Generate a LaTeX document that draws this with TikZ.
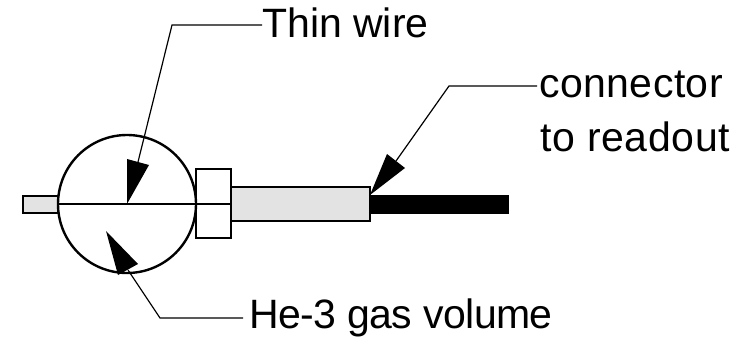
\documentclass[tikz,border=0pt]{standalone}
\usepackage{fontspec}
\setmainfont{Liberation Sans}
\tikzset{
 lbl/.style={inner sep=0pt,anchor=base west,font=\fontsize{41}{41}\selectfont},
 part/.style={draw=black,line width=2.4pt},
 thin lead/.style={draw=black,line width=1.2pt},
 head/.style={fill=black,draw=none}
}
\begin{document}
\begin{tikzpicture}[x=1pt,y=-1pt]
\useasboundingbox (0,0) rectangle (749,339);
% parts
\draw[part,fill=black!11] (23,196) rectangle (58,213);
\draw[part,fill=black!11] (231,187) rectangle (370,221);
\fill[black] (370,195) rectangle (509,214);
\draw[part] (127,204) circle (69);
\draw[part] (196,169) rectangle (231,238);
\draw[part] (58,204) -- (231,204);
% labels
\node[lbl] (thin) at (262,37.5) {Thin wire};
\node[lbl] (conn) at (539,97.5) {\addfontfeatures{LetterSpace=1.1}connector};
\node[lbl] (read) at (540,151.5) {\addfontfeatures{LetterSpace=1.6}to readout};
\node[lbl] (gas) at (249,328.5) {\addfontfeatures{LetterSpace=-1.3}He-3 gas volume};
% leaders
\coordinate (a1) at (172,25);
\coordinate (a2) at (160,318);
\coordinate (a3) at (449,86);
\coordinate (t1) at (127,204);
\coordinate (t2) at (106,231);
\coordinate (t3) at (370,195);
\draw[thin lead] (thin.west |- a1) -- (a1) -- (138,162);
\draw[thin lead] ([xshift=-6pt]gas.west |- a2) -- (a2) -- (128,270);
\draw[thin lead] ([xshift=-2pt]conn.west |- a3) -- (a3) -- (396,161);
\fill[head] (t1) -- (127,159) -- (149,165) -- cycle;
\fill[head] (t2) -- (118,275) -- (138,264) -- cycle;
\fill[head] (t3) -- (387,154) -- (405,168) -- cycle;
\end{tikzpicture}
\end{document}
